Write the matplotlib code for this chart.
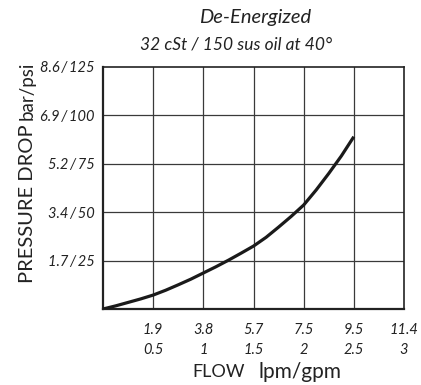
import matplotlib
matplotlib.use("Agg")
import matplotlib.pyplot as plt
from matplotlib.transforms import blended_transform_factory

# Pressure drop curve (flow in gpm, pressure drop in psi)
flow_gpm = [0.0, 0.125, 0.25, 0.375, 0.5, 0.625, 0.75, 0.875, 1.0, 1.125,
            1.25, 1.375, 1.5, 1.625, 1.75, 1.875, 2.0, 2.125, 2.25, 2.375, 2.5]
drop_psi = [0.0, 1.6, 3.4, 5.2, 7.2, 9.7, 12.5, 15.4, 18.6, 21.8,
            25.2, 28.8, 32.5, 37.0, 42.3, 47.8, 53.7, 61.5, 70.0, 79.0, 89.0]

# Axis ticks: lpm/gpm pairs and bar/psi pairs
x_ticks_gpm = [0.5, 1.0, 1.5, 2.0, 2.5, 3.0]
x_labels_lpm = ["1.9", "3.8", "5.7", "7.5", "9.5", "11.4"]
x_labels_gpm = ["0.5", "1", "1.5", "2", "2.5", "3"]
y_ticks_psi = [25, 50, 75, 100, 125]
y_labels = ["1.7\u2009/\u200925", "3.4\u2009/\u200950", "5.2\u2009/\u200975",
            "6.9\u2009/\u2009100", "8.6\u2009/\u2009125"]

plt.rcParams["font.family"] = ["Lato", "DejaVu Sans"]
INK = "#222222"

fig = plt.figure(figsize=(4.21, 3.85), dpi=100)
ax = fig.add_axes([0.2447, 0.1974, 0.7149, 0.6286])

ax.set_xlim(0, 3)
ax.set_ylim(0, 125)

# grid
for xv in x_ticks_gpm[:-1]:
    ax.axvline(xv, color="#3a3a3a", lw=0.9, zorder=1)
for yv in y_ticks_psi[:-1]:
    ax.axhline(yv, color="#3a3a3a", lw=0.9, zorder=1)

ax.plot(flow_gpm, drop_psi, color="#1a1a1a", lw=2.3,
        solid_capstyle="butt", solid_joinstyle="round", zorder=3)

for s in ax.spines.values():
    s.set_color(INK)
    s.set_linewidth(1.2)
ax.spines["left"].set_linewidth(1.6)
ax.spines["bottom"].set_linewidth(1.6)

ax.set_yticks(y_ticks_psi)
ax.set_yticklabels(y_labels, fontsize=10.5, fontstyle="italic", color=INK)
ax.tick_params(axis="y", length=0, pad=6)

# two-row flow labels: lpm over gpm
ax.set_xticks([])
trans = blended_transform_factory(ax.transData, fig.transFigure)
for xv, a, b in zip(x_ticks_gpm, x_labels_lpm, x_labels_gpm):
    ax.text(xv, 1 - 330 / 385, a, fontsize=10.5, fontstyle="italic", color=INK,
            ha="center", va="center", transform=trans)
    ax.text(xv, 1 - 350 / 385, b, fontsize=10.5, fontstyle="italic", color=INK,
            ha="center", va="center", transform=trans)

# axis titles
fig.text(192 / 421, 1 - 372 / 385, "FLOW", fontsize=13, color=INK,
         ha="left", va="center")
fig.text(259 / 421, 1 - 372 / 385, "lpm/gpm", fontsize=15, color=INK,
         ha="left", va="center")
fig.text(33 / 421, 1 - 204 / 385, "PRESSURE DROP", fontsize=14.5, color=INK,
         ha="center", va="baseline", rotation=90, rotation_mode="anchor")
fig.text(33 / 421, 1 - 91 / 385, "bar/psi", fontsize=13.5, color=INK,
         ha="center", va="baseline", rotation=90, rotation_mode="anchor")

# chart title
fig.text(255 / 421, 1 - 18 / 385, "De-Energized", fontsize=14.5,
         fontstyle="italic", color=INK, ha="center", va="center")
fig.text(236 / 421, 1 - 45 / 385, "32 cSt / 150 sus oil at 40°", fontsize=12.5,
         fontstyle="italic", color=INK, ha="center", va="center")

fig.savefig("out.png", dpi=100)
